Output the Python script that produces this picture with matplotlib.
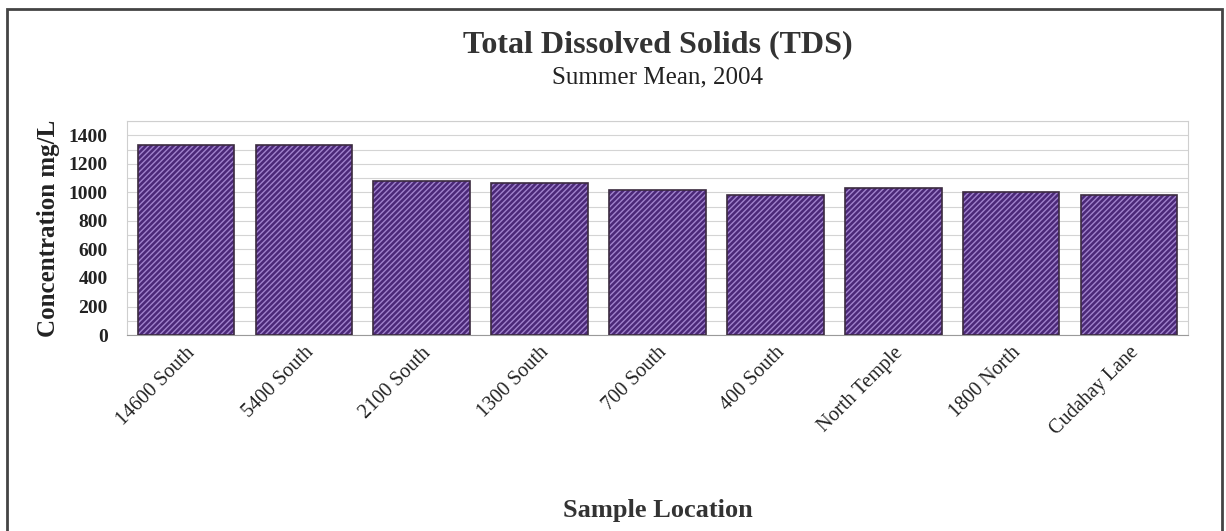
import matplotlib
matplotlib.use("Agg")
import matplotlib.pyplot as plt
from matplotlib.patches import Rectangle
import numpy as np

locations = ["14600 South", "5400 South", "2100 South", "1300 South", "700 South",
             "400 South", "North Temple", "1800 North", "Cudahay Lane"]
tds_mean = [1330, 1330, 1080, 1065, 1015, 985, 1030, 1005, 980]

plt.rcParams['font.family'] = ['Liberation Serif', 'DejaVu Serif']
plt.rcParams['hatch.linewidth'] = 1.0

fig = plt.figure(figsize=(12.26, 5.31), dpi=100)
ax = fig.add_axes([0.1036, 0.369, 0.8654, 0.403])

x = np.arange(len(locations))
# fill + hatch, then outline on top
ax.bar(x, tds_mean, width=0.82, color="#4b2878", edgecolor="#a082cc",
       hatch="//////", linewidth=0, zorder=3)
ax.bar(x, tds_mean, width=0.82, fill=False, edgecolor="#3b2b3f",
       linewidth=1.2, zorder=4)

ax.set_xlim(-0.5, len(locations) - 0.5)
ax.set_ylim(0, 1500)
ax.set_yticks(np.arange(0, 1401, 200))
ax.set_yticks(np.arange(0, 1501, 100), minor=True)
ax.grid(axis="y", which="both", color="#d4d4d4", linewidth=0.8, zorder=0)
ax.tick_params(axis="y", which="both", length=0, pad=14, labelsize=14)
for lab in ax.get_yticklabels():
    lab.set_fontweight("bold")
    lab.set_color("#222222")

ax.set_xticks(x)
ax.set_xticklabels(locations, rotation=45, ha="right", rotation_mode="anchor",
                   fontsize=14.5, color="#222222")
ax.tick_params(axis="x", length=0, pad=6)

for side in ["left", "top", "right"]:
    ax.spines[side].set_color("#cfcfcf")
ax.spines["bottom"].set_color("#9a9a9a")

ax.set_ylabel("Concentration mg/L", fontsize=18, fontweight="bold", labelpad=6,
              color="#222222")

cx = 0.1036 + 0.8654 / 2
fig.text(cx, 1 - 45 / 531, "Total Dissolved Solids (TDS)", ha="center", va="center",
         fontsize=23, fontweight="bold", color="#333333")
fig.text(cx, 1 - 77 / 531, "Summer Mean, 2004", ha="center", va="center",
         fontsize=18, color="#222222")
fig.text(cx, 1 - 510 / 531, "Sample Location", ha="center", va="center",
         fontsize=19, fontweight="bold", color="#333333")

# outer chart border (bottom edge runs off the image)
fig.patches.append(Rectangle((7 / 1226, -0.05), 1215 / 1226, 1.05 - 9 / 531,
                             transform=fig.transFigure, fill=False,
                             edgecolor="#444444", linewidth=2))

fig.savefig("out.png", dpi=100)
